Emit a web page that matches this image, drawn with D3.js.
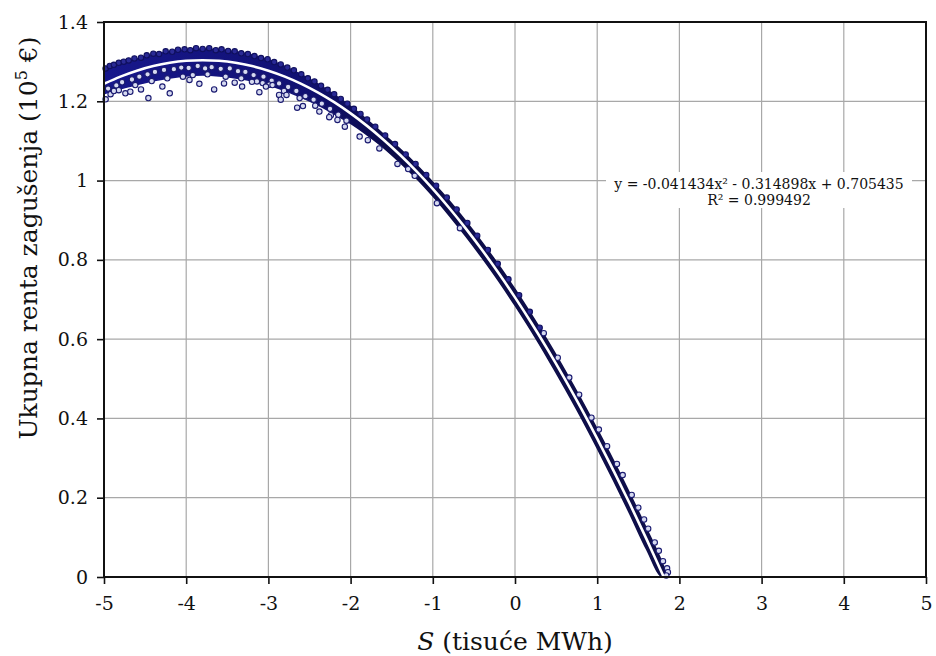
<!DOCTYPE html>
<html>
<head>
<meta charset="utf-8">
<script src="https://cdn.jsdelivr.net/npm/d3@7"></script>
<style>
  body { margin: 0; background: #fff; }
  svg { display: block; font-family: "DejaVu Serif", serif; }
</style>
</head>
<body>
<svg id="chart" width="936" height="656"></svg>
<script>
// fitted trend (from the equation printed on the chart)
const trendX = [-5,-4.8,-4.6,-4.4,-4.2,-4,-3.8,-3.6,-3.4,-3.2,-3,-2.8,-2.6,-2.4,-2.2,-2,-1.8,-1.6,-1.4,-1.2,-1,-0.8,-0.6,-0.4,-0.2,0,0.2,0.4,0.6,0.8,1,1.2,1.4,1.6,1.8,1.81];
const trendY = [1.2441,1.2623,1.2772,1.2888,1.2971,1.3021,1.3037,1.3021,1.2971,1.2888,1.2772,1.2623,1.2441,1.2225,1.1977,1.1695,1.1380,1.1032,1.0651,1.0237,0.9789,0.9308,0.8795,0.8248,0.7668,0.7054,0.6408,0.5729,0.5016,0.4270,0.3491,0.2679,0.1834,0.0955,0.0044,0.0000];

// dense cloud of simulation points: upper / lower edge of the band
const bandX  = [-5,-4.8,-4.6,-4.4,-4.2,-4,-3.8,-3.6,-3.4,-3.2,-3,-2.8,-2.6,-2.4,-2.2,-2,-1.8,-1.6,-1.4,-1.2,-1,-0.8,-0.6,-0.4,-0.2,0,0.2,0.4,0.6,0.8,1,1.2,1.4,1.6,1.8,1.83];
const bandHi = [1.284,1.296,1.307,1.318,1.325,1.330,1.332,1.330,1.325,1.317,1.305,1.288,1.267,1.244,1.217,1.187,1.153,1.117,1.080,1.040,0.996,0.949,0.898,0.844,0.787,0.726,0.662,0.595,0.524,0.450,0.373,0.293,0.209,0.122,0.031,0.015];
const bandLo = [1.219,1.232,1.242,1.252,1.259,1.264,1.266,1.264,1.259,1.252,1.241,1.227,1.210,1.191,1.168,1.144,1.115,1.083,1.046,1.006,0.961,0.912,0.860,0.805,0.747,0.685,0.620,0.551,0.479,0.404,0.325,0.243,0.158,0.070,0.000,0.000];

// single points on the upper edge of the cloud
const edgeX = [-4.98,-4.93,-4.88,-4.82,-4.76,-4.70,-4.63,-4.55,-4.48,-4.40,-4.33,-4.25,-4.17,-4.10,-4.02,-3.95,-3.88,-3.80,-3.72,-3.64,-3.57,-3.49,-3.41,-3.33,-3.25,-3.17,-3.09,-3.01,-2.93,-2.85,-2.77,-2.69,-2.60,-2.52,-2.44,-2.36,-2.28,-2.20,-2.12,-2.04,-1.96,-1.88,-1.80,
  -1.70,-1.58,-1.46,-1.33,-1.21,-1.08,-0.96,-0.83,-0.71,-0.58,-0.46,-0.33,-0.21,-0.08,0.05,0.18,0.30];
const edgeY = [1.283,1.289,1.292,1.297,1.300,1.303,1.308,1.310,1.316,1.320,1.319,1.326,1.325,1.330,1.331,1.329,1.334,1.332,1.334,1.329,1.331,1.327,1.326,1.321,1.319,1.314,1.309,1.306,1.299,1.293,1.285,1.278,1.268,1.258,1.250,1.239,1.229,1.218,1.206,1.194,1.181,1.168,1.154,
  1.136,1.114,1.092,1.066,1.042,1.014,0.987,0.957,0.927,0.893,0.861,0.825,0.790,0.751,0.711,0.669,0.629];

// scattered single points (open rings) inside and below the cloud
const ringX = [-4.95,-4.85,-4.78,-4.66,-4.57,-4.47,-4.38,-4.27,-4.15,-4.06,-3.97,-3.86,-3.77,-3.69,-3.58,-3.47,-3.37,-3.28,-3.18,-3.06,-2.96,-2.87,-2.76,-2.66,-2.55,-2.45,-2.35,-2.25,-2.15,-2.05,
  -4.92,-4.82,-4.62,-4.42,-4.23,-4.04,-3.92,-3.74,-3.52,-3.33,-3.14,-2.99,-2.81,-2.62,-2.43,-2.24,
  -4.98,-4.88,-4.74,-4.68,-4.55,-4.46,-4.29,-4.20,-3.96,-3.84,-3.66,-3.54,-3.41,-3.32,-3.20,-3.11,-3.07,-3.03,-2.95,-2.87,-2.85,-2.78,-2.65,-2.58,-2.38,-2.26,-2.16,-2.07,-1.89,-1.79,-1.65,-1.43,-1.30,-1.22,-0.95,-0.67,
  0.35,0.52,0.66,0.78,0.93,1.02,1.12,1.24,1.31,1.42,1.50,1.57,1.62,1.70,1.75,1.80,1.85,1.86,1.84];
const ringY = [1.232,1.240,1.248,1.255,1.262,1.268,1.274,1.279,1.281,1.285,1.284,1.289,1.283,1.286,1.282,1.283,1.276,1.274,1.266,1.262,1.252,1.245,1.236,1.226,1.213,1.204,1.194,1.181,1.166,1.151,
  1.218,1.228,1.241,1.251,1.258,1.262,1.266,1.268,1.262,1.258,1.250,1.242,1.226,1.208,1.189,1.165,
  1.205,1.226,1.220,1.224,1.230,1.208,1.237,1.220,1.254,1.244,1.230,1.245,1.247,1.237,1.249,1.223,1.246,1.237,1.241,1.216,1.204,1.216,1.184,1.188,1.174,1.160,1.153,1.136,1.111,1.102,1.081,1.042,1.029,1.012,0.943,0.880,
  0.615,0.553,0.503,0.460,0.402,0.372,0.330,0.285,0.257,0.207,0.175,0.145,0.122,0.087,0.066,0.040,0.022,0.012,0.004];

const xTicks = [-5,-4,-3,-2,-1,0,1,2,3,4,5];
const yTicks = [0,0.2,0.4,0.6,0.8,1,1.2,1.4];
const fitLines = ["y = -0.041434x\u00B2 - 0.314898x + 0.705435", "R\u00B2 = 0.999492"];

const svg = d3.select("#chart");
const pl = 104, pr = 926, pt = 22, pb = 577;

const x = d3.scaleLinear().domain([-5, 5]).range([pl, pr]);
const y = d3.scaleLinear().domain([0, 1.4]).range([pb, pt]);

// grid
const grid = svg.append("g").attr("stroke", "#a8a8a8").attr("stroke-width", 1.2);
grid.selectAll(".gx").data(xTicks.slice(1, -1)).join("line")
    .attr("x1", d => x(d)).attr("x2", d => x(d))
    .attr("y1", pt).attr("y2", pb);
grid.selectAll(".gy").data(yTicks.slice(1, -1)).join("line")
    .attr("x1", pl).attr("x2", pr)
    .attr("y1", d => y(d)).attr("y2", d => y(d));

// band colour darkens towards the right
const defs = svg.append("defs");
const grad = defs.append("linearGradient").attr("id", "bandFill")
    .attr("gradientUnits", "userSpaceOnUse")
    .attr("x1", x(-5)).attr("x2", x(2)).attr("y1", 0).attr("y2", 0);
grad.append("stop").attr("offset", "0%").attr("stop-color", "#17178c");
grad.append("stop").attr("offset", "35%").attr("stop-color", "#111172");
grad.append("stop").attr("offset", "50%").attr("stop-color", "#0b0b48");
grad.append("stop").attr("offset", "100%").attr("stop-color", "#0e0e4a");

const band = bandX.map((d, i) => ({x: d, lo: bandLo[i], hi: bandHi[i]}));
svg.append("path")
    .datum(band)
    .attr("fill", "url(#bandFill)")
    .attr("stroke", "url(#bandFill)")
    .attr("stroke-width", 1.5)
    .attr("d", d3.area().curve(d3.curveMonotoneX)
      .x(d => x(d.x)).y0(d => y(d.lo)).y1(d => y(d.hi)));

// points
svg.append("g").selectAll("circle")
    .data(ringX.map((d, i) => [d, ringY[i]]))
    .join("circle")
    .attr("cx", d => x(d[0])).attr("cy", d => y(d[1])).attr("r", 2.7)
    .attr("fill", "#d6daf0").attr("stroke", "#1a1a70").attr("stroke-width", 1.1);

svg.append("g").selectAll("circle")
    .data(edgeX.map((d, i) => [d, edgeY[i]]))
    .join("circle")
    .attr("cx", d => x(d[0])).attr("cy", d => y(d[1])).attr("r", 2.7)
    .attr("fill", "#2a2a96").attr("stroke", "#10105e").attr("stroke-width", 1.1);

// trend line
svg.append("path")
    .datum(trendX.map((d, i) => [d, trendY[i]]))
    .attr("fill", "none")
    .attr("stroke", "#ffffff")
    .attr("stroke-width", 2.6)
    .attr("d", d3.line().curve(d3.curveCatmullRom).x(d => x(d[0])).y(d => y(d[1])));

// equation label
svg.append("rect")
    .attr("x", 606).attr("y", 172).attr("width", 306).attr("height", 36)
    .attr("fill", "#fff");
svg.append("g").selectAll("text").data(fitLines).join("text")
    .attr("x", 759).attr("y", (d, i) => 189 + i * 16)
    .attr("text-anchor", "middle")
    .attr("font-size", 14)
    .attr("fill", "#111")
    .text(d => d);

// frame
svg.append("rect")
    .attr("x", pl).attr("y", pt).attr("width", pr - pl).attr("height", pb - pt)
    .attr("fill", "none").attr("stroke", "#111").attr("stroke-width", 2);

// axes
const yAxis = svg.append("g")
    .attr("transform", `translate(${pl},0)`)
    .call(d3.axisLeft(y).tickValues(yTicks).tickSize(7).tickPadding(9).tickFormat(d3.format("~g")));
const xAxis = svg.append("g")
    .attr("transform", `translate(0,${pb})`)
    .call(d3.axisBottom(x).tickValues(xTicks).tickSize(7).tickPadding(13).tickFormat(d => String(d)));
[yAxis, xAxis].forEach(a => {
  a.select(".domain").remove();
  a.selectAll("line").attr("stroke", "#111").attr("stroke-width", 1.6);
  a.selectAll("text").attr("font-family", "DejaVu Serif").attr("font-size", 19).attr("fill", "#111");
});

// axis titles
const yt = svg.append("text")
    .attr("transform", "translate(37,238) rotate(-90)")
    .attr("text-anchor", "middle")
    .attr("font-size", 25)
    .attr("fill", "#111");
yt.append("tspan").text("Ukupna renta zagušenja (10");
yt.append("tspan").attr("font-size", 16).attr("dy", -10).text("5");
yt.append("tspan").attr("dy", 10).text(" €)");

const xt = svg.append("text")
    .attr("x", 515).attr("y", 650)
    .attr("text-anchor", "middle")
    .attr("font-size", 25)
    .attr("fill", "#111");
xt.append("tspan").attr("font-style", "italic").text("S");
xt.append("tspan").text(" (tisuće MWh)");
</script>
</body>
</html>
